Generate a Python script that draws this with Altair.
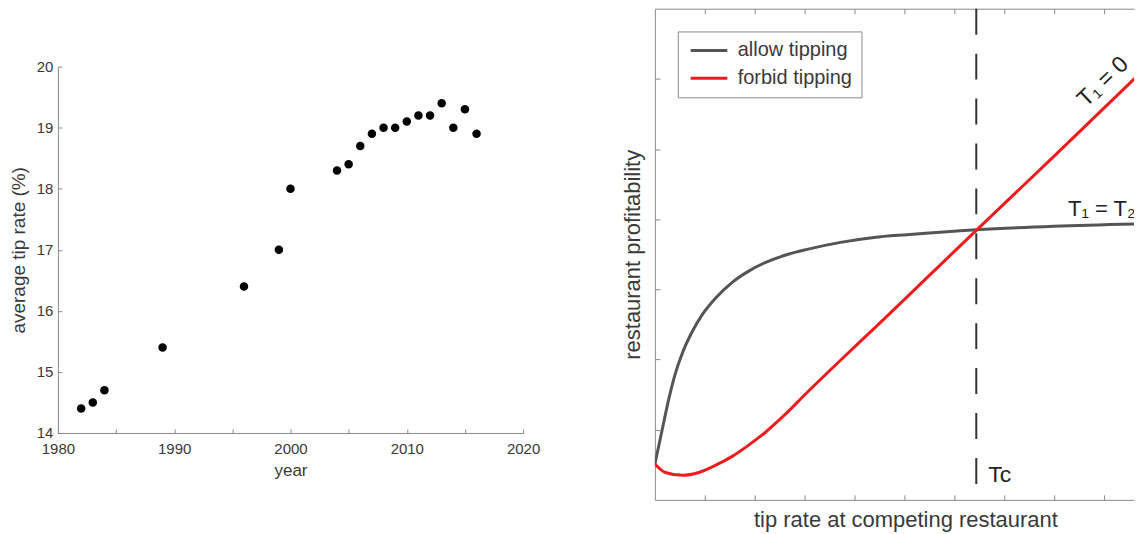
import altair as alt
import pandas as pd

# ---------------- data ----------------
years = [1982, 1983, 1984, 1989, 1996, 1999, 2000, 2004, 2005, 2006,
         2007, 2008, 2009, 2010, 2011, 2012, 2013, 2014, 2015, 2016]
tip_rates = [14.4, 14.5, 14.7, 15.4, 16.4, 17.0, 18.0, 18.3, 18.4, 18.7,
             18.9, 19.0, 19.0, 19.1, 19.2, 19.2, 19.4, 19.0, 19.3, 18.9]
year_labels = [1980, 1990, 2000, 2010, 2020]
year_ticks = [1980, 1985, 1990, 1995, 2000, 2005, 2010, 2015, 2020]
rate_ticks = [14, 15, 16, 17, 18, 19, 20]

allow_x = [0.0, 0.15, 0.28, 0.41, 0.55, 0.75, 0.95, 1.21, 1.55, 1.88, 2.21,
           2.67, 3.05, 3.72, 4.39, 5.05, 6.44, 8.0, 10.0]
allow_y = [0.51, 1.01, 1.44, 1.80, 2.09, 2.40, 2.64, 2.87, 3.10, 3.26, 3.38,
           3.50, 3.57, 3.67, 3.74, 3.78, 3.85, 3.90, 3.94]
forbid_x = [0.0, 0.21, 0.55, 0.88, 1.21, 1.55, 1.88, 2.21, 2.6, 3.05, 3.72,
            4.39, 5.05, 5.72, 6.44, 8.0, 10.0]
forbid_y = [0.51, 0.39, 0.35, 0.39, 0.49, 0.62, 0.78, 0.96, 1.21, 1.53, 1.99,
            2.44, 2.89, 3.35, 3.84, 4.90, 6.27]
series_names = ["allow tipping", "forbid tipping"]
tc_value = [6.44]
x_ticks = [1, 2, 3, 4, 5, 6, 7, 8, 9]
y_ticks = [1, 2, 3, 4, 5, 6]
ann_text = ["T\u2081 = 0", "T\u2081 = T\u2082", "Tc"]
ann_x = [8.98, 8.28, 6.68]
ann_y = [5.96, 4.04, 0.25]

# ---------------- style ----------------
FONT = "Liberation Sans"
AX = "#8a8a8a"
TXT = "#3a3a3a"
W1, H1 = 466, 367
W2, H2 = 480, 492
XMAX2 = 9.6  # visible part of the right panel's x range (50 px per unit)

# ---------------- left panel ----------------
left_df = pd.DataFrame({"year": years, "rate": tip_rates})
xs1 = alt.Scale(domain=[1980, 2020], nice=False, zero=False)
ys1 = alt.Scale(domain=[14, 20], nice=False, zero=False)

pts = alt.Chart(left_df).mark_circle(size=72, color="black", opacity=1).encode(
    x=alt.X("year:Q", scale=xs1,
            axis=alt.Axis(orient="bottom", values=year_labels, format="d", ticks=False, grid=False,
                          labelFlush=False, domainColor=AX, labelColor=TXT, labelFontSize=15,
                          labelPadding=9, labelFont=FONT, title="year", titleFont=FONT,
                          titleFontSize=17, titleFontWeight="normal", titleColor=TXT,
                          titlePadding=6)),
    y=alt.Y("rate:Q", scale=ys1,
            axis=alt.Axis(orient="left", values=rate_ticks, ticks=False, grid=False,
                          labelFlush=False, domainColor=AX, labelColor=TXT, labelFontSize=15,
                          labelPadding=5, labelFont=FONT, title="average tip rate (%)",
                          titleFont=FONT, titleFontSize=19, titleFontWeight="normal",
                          titleColor=TXT, titlePadding=8)),
)
ticks_l = alt.Chart(left_df).mark_circle(size=72, opacity=0).encode(
    x=alt.X("year:Q", scale=xs1,
            axis=alt.Axis(orient="top", offset=-H1, values=year_ticks, labels=False, domain=False,
                          ticks=True, tickSize=4, tickColor=AX, grid=False, title=None)),
    y=alt.Y("rate:Q", scale=ys1,
            axis=alt.Axis(orient="right", offset=-W1, values=rate_ticks, labels=False, domain=False,
                          ticks=True, tickSize=4, tickColor=AX, grid=False, title=None)),
)
left = alt.layer(pts, ticks_l).resolve_axis(x="independent", y="independent").properties(
    width=W1, height=H1,
    view=alt.ViewBackground(stroke="transparent"),
)

# ---------------- right panel ----------------
line_df = pd.DataFrame({
    "x": allow_x + forbid_x,
    "y": allow_y + forbid_y,
    "series": [series_names[0]] * len(allow_x) + [series_names[1]] * len(forbid_x),
})
xs2 = alt.Scale(domain=[0, XMAX2], nice=False, zero=False)
ys2 = alt.Scale(domain=[0, 7], nice=False, zero=False)

lines = alt.Chart(line_df).mark_line(strokeWidth=3, interpolate="monotone", clip=True).encode(
    x=alt.X("x:Q", scale=xs2,
            axis=alt.Axis(orient="bottom", labels=False, ticks=False, domain=True, domainColor=AX,
                          grid=False, title="tip rate at competing restaurant", titleFont=FONT,
                          titleFontSize=22, titleFontWeight="normal", titleColor=TXT,
                          titlePadding=10, titleX=251, titleAlign="center")),
    y=alt.Y("y:Q", scale=ys2,
            axis=alt.Axis(orient="left", labels=False, ticks=False, domain=True, domainColor=AX,
                          grid=False, title="restaurant profitability", titleFont=FONT,
                          titleFontSize=22, titleFontWeight="normal", titleColor=TXT,
                          titlePadding=10)),
    color=alt.Color("series:N",
                    scale=alt.Scale(domain=series_names, range=["#555555", "#ee1c1c"]),
                    legend=alt.Legend(orient="none", legendX=621, legendY=23, title=None,
                                      padding=9, strokeColor=AX, fillColor="white",
                                      symbolType="M-1,0H5", symbolSize=150,
                                      symbolStrokeWidth=3, labelFont=FONT, labelFontSize=20,
                                      labelColor=TXT, labelOffset=31, rowPadding=8)),
    order=alt.Order("x:Q"),
    detail="series:N",
)

tc_df = pd.DataFrame({"x": tc_value})
rule = alt.Chart(tc_df).mark_rule(color="#333333", strokeWidth=2, strokeDash=[26, 19]).encode(
    x=alt.X("x:Q", scale=xs2,
            axis=alt.Axis(orient="top", offset=-H2, values=x_ticks, labels=False, domain=False,
                          ticks=True, tickSize=5, tickColor=AX, grid=False, title=None)),
)

def ann_df(i):
    return pd.DataFrame({"x": [ann_x[i]], "y": [ann_y[i]], "t": [ann_text[i]]})

t_slope = alt.Chart(ann_df(0)).mark_text(font=FONT, fontSize=23, color="#222222", angle=316,
                                          align="center", baseline="middle", clip=True).encode(
    x=alt.X("x:Q", scale=xs2, axis=None),
    y=alt.Y("y:Q", scale=ys2, axis=None),
    text="t:N",
)
t_flat = alt.Chart(ann_df(1)).mark_text(font=FONT, fontSize=22, color="#222222",
                                         align="left", baseline="alphabetic", clip=True).encode(
    x=alt.X("x:Q", scale=xs2,
            axis=alt.Axis(orient="bottom", offset=-H2, values=x_ticks, labels=False, domain=True,
                          domainColor=AX, ticks=True, tickSize=5, tickColor=AX, grid=False,
                          title=None)),
    y=alt.Y("y:Q", scale=ys2,
            axis=alt.Axis(orient="right", offset=-W2, values=y_ticks, labels=False, domain=False,
                          ticks=True, tickSize=5, tickColor=AX, grid=False, title=None)),
    text="t:N",
)
t_tc = alt.Chart(ann_df(2)).mark_text(font=FONT, fontSize=23, color="#222222",
                                       align="left", baseline="alphabetic").encode(
    x=alt.X("x:Q", scale=xs2, axis=None),
    y=alt.Y("y:Q", scale=ys2, axis=None),
    text="t:N",
)

right = alt.layer(lines, rule, t_slope, t_flat, t_tc).resolve_axis(
    x="independent", y="independent"
).properties(
    width=W2, height=H2,
    view=alt.ViewBackground(stroke="transparent"),
    title=alt.TitleParams(" ", orient="bottom", fontSize=1, offset=5),
)

chart = alt.hconcat(left, right, spacing=80, center=True).properties(
    padding={"left": 0, "top": -2, "right": 0, "bottom": 0}
).configure_view(
    stroke="transparent"
).configure(font=FONT)

chart.save("out.html", embed_options={"renderer": "svg", "actions": False})
